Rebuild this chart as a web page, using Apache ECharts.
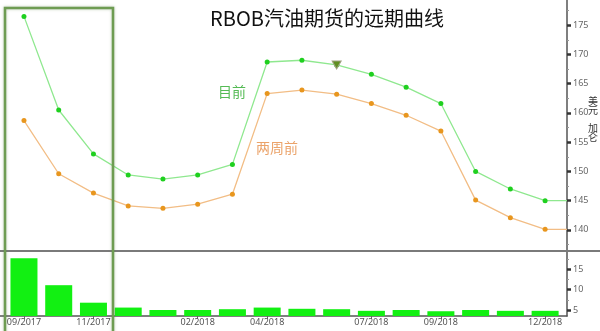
<!DOCTYPE html>
<html>
<head>
<meta charset="utf-8">
<script src="https://cdn.jsdelivr.net/npm/echarts@6/dist/echarts.min.js"></script>
<style>html,body{margin:0;padding:0;background:#fff}#c{width:600px;height:331px}</style>
</head>
<body>
<div id="c"></div>
<script>
var months = ['09/2017','10/2017','11/2017','12/2017','01/2018','02/2018','03/2018','04/2018','05/2018','06/2018','07/2018','08/2018','09/2018','10/2018','11/2018','12/2018'];
var labelIdx = [0, 2, 5, 7, 10, 12, 15];
var currentCurve = [176.5, 160.5, 153.0, 149.4, 148.7, 149.4, 151.2, 168.7, 169.0, 168.2, 166.6, 164.4, 161.6, 150.0, 147.0, 145.0];
var twoWeeksAgo = [158.7, 149.6, 146.3, 144.1, 143.7, 144.4, 146.1, 163.3, 163.9, 163.2, 161.6, 159.6, 156.9, 145.1, 142.1, 140.1];
var spread = [17.7, 11.1, 6.8, 5.6, 5.0, 5.0, 5.2, 5.6, 5.3, 5.2, 4.8, 5.0, 4.7, 5.0, 4.8, 4.8];
var upperTicks = [140, 145, 150, 155, 160, 165, 170, 175];
var upperMinor = [137.5, 142.5, 147.5, 152.5, 157.5, 162.5, 167.5, 172.5, 177.5];
var lowerTicks = [5, 10, 15];
var lowerMinor = [7.5, 12.5, 17.5];
var unitChars = ['美', '元', '/', '加', '仑'];
var markedMonth = 9;

var X_MIN = -0.69, X_MAX = 15.63;
function pts(arr){
  var d = arr.map(function(v,i){return [i, v];});
  d.push({value:[X_MAX, arr[arr.length-1]], symbol:'none'});
  return d;
}
var chart = echarts.init(document.getElementById('c'), null, {renderer:'canvas'});
var axisColor = '#555';
var font = '"Noto Sans", "DejaVu Sans", sans-serif';
var cjk = '"Noto Sans CJK SC", sans-serif';
function yAx(gi, min, max, ticks, major){
  return {
    type:'value', gridIndex:gi, position:'right', offset:0, min:min, max:max,
    splitLine:{show:false},
    axisLine:{show:major, onZero:false, lineStyle:{color:axisColor, width:1.5}},
    axisTick:{show:true, customValues:ticks, length: major?4:2, lineStyle:{color:major?'#333':'#999', width: major?2.5:1}},
    axisLabel:{show:major, customValues:ticks, color:'#666', fontSize:9, margin:6, fontFamily:font}
  };
}
var graphics = [
  {type:'line', shape:{x1:0, y1:251, x2:600, y2:251}, style:{stroke:'#7a7a7a', lineWidth:2}, z:50},
  {type:'rect', shape:{x:5, y:8, width:108, height:330}, style:{fill:null, stroke:'#6e9c52', lineWidth:2.5, shadowBlur:3, shadowColor:'rgba(80,120,60,0.4)'}, z:60},
  {type:'text', left:218, top:85, style:{text:'目前', fill:'#55bb55', fontSize:14, fontFamily:cjk}},
  {type:'text', left:256, top:141, style:{text:'两周前', fill:'#eba36a', fontSize:14, fontFamily:cjk}}
];
unitChars.forEach(function(ch, i){
  graphics.push({type:'text', x:593, y:96 + i*9, style:{text:ch, fill:'#333', fontSize:10, align:'center', verticalAlign:'top', fontFamily:cjk}, rotation: ch==='/' ? -Math.PI/2 : 0, originX:593, originY:100 + i*9});
});
chart.setOption({
  animation:false,
  backgroundColor:'#fff',
  title:{text:'RBOB汽油期货的远期曲线', left:322, textAlign:'center', top:3,
    textStyle:{fontSize:20, fontWeight:'normal', color:'#111', fontFamily:cjk}},
  grid:[
    {left:0, right:33, top:0, height:251},
    {left:0, right:33, top:251, height:65}
  ],
  xAxis:[
    {type:'value', gridIndex:0, min:X_MIN, max:X_MAX, show:false},
    {type:'value', gridIndex:1, min:X_MIN, max:X_MAX,
      splitLine:{show:false},
      axisLine:{show:true, onZero:false, lineStyle:{color:axisColor, width:1.5}},
      axisTick:{show:true, customValues:labelIdx, length:3, lineStyle:{color:'#666'}},
      axisLabel:{customValues:labelIdx, formatter:function(v){return months[Math.round(v)];}, color:'#555', fontSize:9, margin:2, fontFamily:font}
    }
  ],
  yAxis:[
    yAx(0, 136.4, 179.3, upperTicks, true),
    yAx(1, 3.53, 19.5, lowerTicks, true),
    yAx(0, 136.4, 179.3, upperMinor, false),
    yAx(1, 3.53, 19.5, lowerMinor, false)
  ],
  series:[
    {name:'两周前', type:'line', xAxisIndex:0, yAxisIndex:0, data:pts(twoWeeksAgo),
      symbol:'circle', symbolSize:5, lineStyle:{color:'#f2bd85', width:1.3},
      itemStyle:{color:'#e8961e'}},
    {name:'目前', type:'line', xAxisIndex:0, yAxisIndex:0, data:pts(currentCurve),
      symbol:'circle', symbolSize:5, lineStyle:{color:'#8fe88f', width:1.3},
      itemStyle:{color:'#1fd01f'},
      markPoint:{symbol:'triangle', symbolRotate:180, symbolSize:[9,8], silent:true,
        itemStyle:{color:'#5f8f1f', borderColor:'#a0a080', borderWidth:1},
        label:{show:false},
        data:[{coord:[markedMonth, currentCurve[markedMonth]]}]}
    },
    {name:'差', type:'bar', xAxisIndex:1, yAxisIndex:1, data:spread.map(function(v,i){return [i,v];}),
      barWidth:27, itemStyle:{color:'#12f012'}}
  ],
  graphic:graphics
});
</script>
</body>
</html>
